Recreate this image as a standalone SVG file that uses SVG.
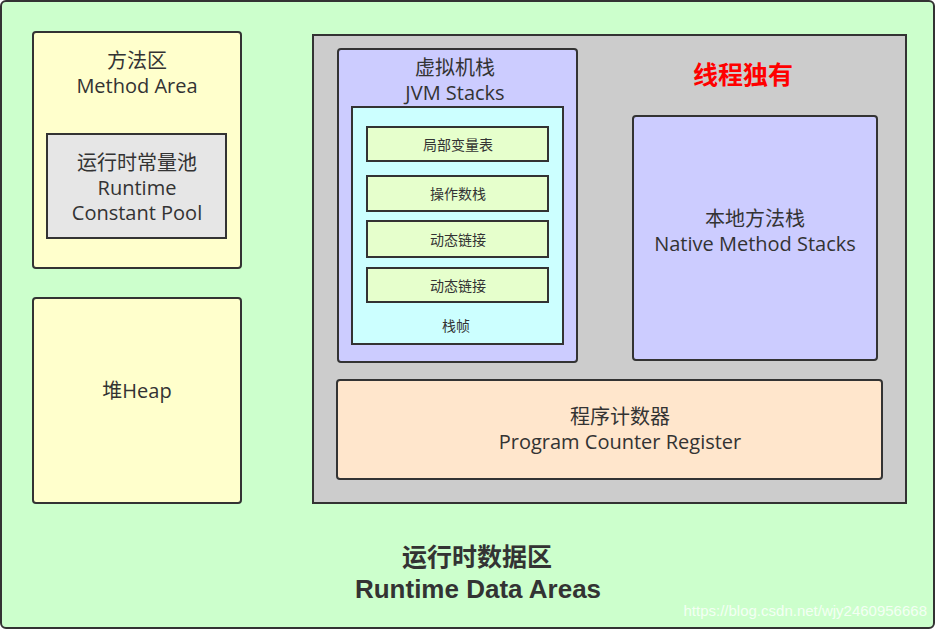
<svg xmlns="http://www.w3.org/2000/svg" width="936" height="630" viewBox="0 0 936 630">
<style>
.box{stroke:#333333;stroke-width:2}
.t{font-family:"Open Sans","Noto Sans CJK SC",sans-serif;font-size:20px;fill:#333333;text-anchor:middle}
.s{font-family:"Open Sans","Noto Sans CJK SC",sans-serif;font-size:14px;fill:#333333;text-anchor:middle}
.b{font-family:"Liberation Sans","Noto Sans CJK SC",sans-serif;font-weight:bold;fill:#333333;text-anchor:middle}
</style>
<g id="runtime-data-areas">
<rect class="box" x="1" y="1" width="933" height="627" rx="5" fill="#CCFFCC"/>
<text class="b" x="477" y="566" font-size="25">运行时数据区</text>
<text class="b" x="478" y="598" font-size="26">Runtime Data Areas</text>
</g>
<g id="method-area">
<rect class="box" x="33" y="32" width="208" height="236" rx="3" fill="#FFFFCC"/>
<text class="t" x="137" y="68">方法区</text>
<text class="t" x="137" y="93">Method Area</text>
</g>
<g id="constant-pool">
<rect class="box" x="47" y="134" width="179" height="104" fill="#E6E6E6"/>
<text class="t" x="137" y="170">运行时常量池</text>
<text class="t" x="137" y="195">Runtime</text>
<text class="t" x="137" y="220">Constant Pool</text>
</g>
<g id="heap">
<rect class="box" x="33" y="298" width="208" height="205" rx="3" fill="#FFFFCC"/>
<text class="t" x="137" y="398">堆Heap</text>
</g>
<g id="thread-private">
<rect class="box" x="313" y="35" width="593" height="468" fill="#CCCCCC"/>
<text class="b" x="743" y="84" font-size="25" style="fill:#FF0000">线程独有</text>
</g>
<g id="jvm-stacks">
<rect class="box" x="338" y="49" width="239" height="313" rx="3" fill="#CCCCFF"/>
<text class="t" x="455" y="75">虚拟机栈</text>
<text class="t" x="455" y="100">JVM Stacks</text>
</g>
<g id="stack-frame">
<rect class="box" x="352" y="107" width="211" height="237" fill="#CCFFFF"/>
<text class="s" x="456" y="331">栈帧</text>
</g>
<g id="local-variables">
<rect class="box" x="367" y="127" width="181" height="34" fill="#E6FFCC"/>
<text class="s" x="458" y="150">局部变量表</text>
</g>
<g id="operand-stack">
<rect class="box" x="367" y="176" width="181" height="35" fill="#E6FFCC"/>
<text class="s" x="458" y="199">操作数栈</text>
</g>
<g id="dynamic-linking-1">
<rect class="box" x="367" y="221" width="181" height="36" fill="#E6FFCC"/>
<text class="s" x="458" y="245">动态链接</text>
</g>
<g id="dynamic-linking-2">
<rect class="box" x="367" y="268" width="181" height="34" fill="#E6FFCC"/>
<text class="s" x="458" y="291">动态链接</text>
</g>
<g id="native-method-stacks">
<rect class="box" x="633" y="116" width="244" height="244" rx="3" fill="#CCCCFF"/>
<text class="t" x="755" y="226">本地方法栈</text>
<text class="t" x="755" y="251">Native Method Stacks</text>
</g>
<g id="program-counter">
<rect class="box" x="337" y="380" width="545" height="99" rx="3" fill="#FFE6CC"/>
<text class="t" x="620" y="424">程序计数器</text>
<text class="t" x="620" y="449">Program Counter Register</text>
</g>
<g id="connectors"/>
<text x="927" y="616" text-anchor="end" font-family="Liberation Sans, sans-serif" font-size="15" fill="#FFFFFF" fill-opacity="0.8">https://blog.csdn.net/wjy2460956668</text>
</svg>
